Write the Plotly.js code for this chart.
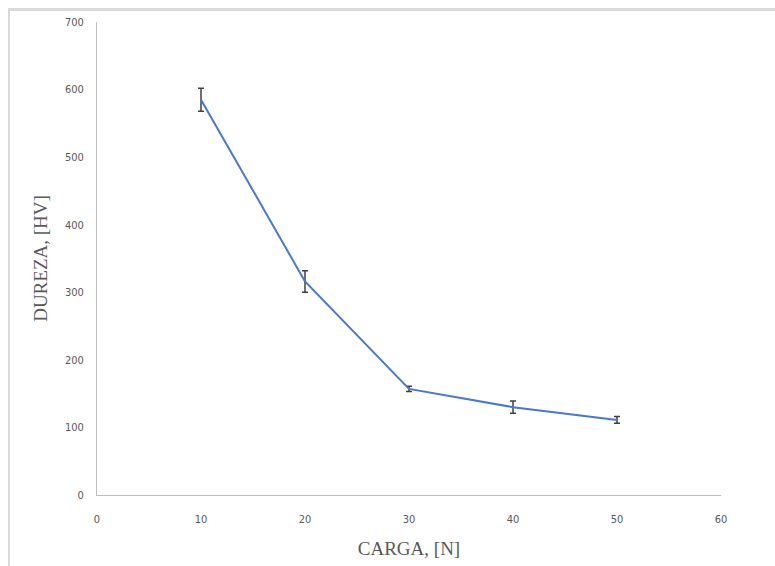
<!DOCTYPE html>
<html>
<head>
<meta charset="utf-8">
<script src="https://cdn.plot.ly/plotly-3.0.1.min.js"></script>
<style>
  html, body { margin: 0; padding: 0; background: #fff; }
  #wrap { position: relative; width: 775px; height: 566px; }
  #frame { position: absolute; left: 8px; top: 8px; width: 767px; height: 558px;
           border-top: 3px solid #d9d9d9; border-left: 2px solid #d9d9d9; box-sizing: border-box; pointer-events: none; }
  #chart { position: absolute; left: 0; top: 0; width: 775px; height: 566px; }
</style>
</head>
<body>
<div id="wrap">
  <div id="chart"></div>
  <div id="frame"></div>
</div>
<script>
const carga = [10, 20, 30, 40, 50];
const dureza = [585, 316, 157, 130, 111];
const errores = [17, 16, 4, 9, 5];
const xTicks = [0, 10, 20, 30, 40, 50, 60];
const yTicks = [0, 100, 200, 300, 400, 500, 600, 700];

const tickFont = { family: "'Liberation Sans Narrow', 'DejaVu Sans Condensed', 'Liberation Sans', sans-serif", size: 11, color: '#595959' };
const titleFont = { family: "'Liberation Serif', 'DejaVu Serif', serif", size: 19, color: '#595959' };

const trace = {
  x: carga, y: dureza, type: 'scatter', mode: 'lines',
  line: { color: '#4A78CC', width: 2 },
  error_y: { type: 'data', array: errores, visible: true, color: '#404040', thickness: 1.5, width: 3 }
};

const layout = {
  width: 775, height: 566,
  margin: { l: 97, r: 54, t: 22, b: 71 },
  paper_bgcolor: '#fff', plot_bgcolor: '#fff',
  showlegend: false,
  xaxis: {
    range: [0, 60], tickvals: xTicks, ticktext: xTicks.map(String),
    showgrid: false, zeroline: false, showline: true, linecolor: '#bfbfbf', linewidth: 1,
    ticks: '', tickfont: tickFont, ticklabelstandoff: 14,
    title: { text: 'CARGA, [N]', font: titleFont, standoff: 16 }
  },
  yaxis: {
    range: [0, 700], tickvals: yTicks, ticktext: yTicks.map(String),
    showgrid: false, zeroline: false, showline: true, linecolor: '#bfbfbf', linewidth: 1,
    ticks: '', tickfont: tickFont, ticklabelstandoff: 10,
    title: { text: 'DUREZA, [HV]', font: titleFont, standoff: 12 }
  }
};

Plotly.newPlot('chart', [trace], layout, { displayModeBar: false, staticPlot: true });
</script>
</body>
</html>
